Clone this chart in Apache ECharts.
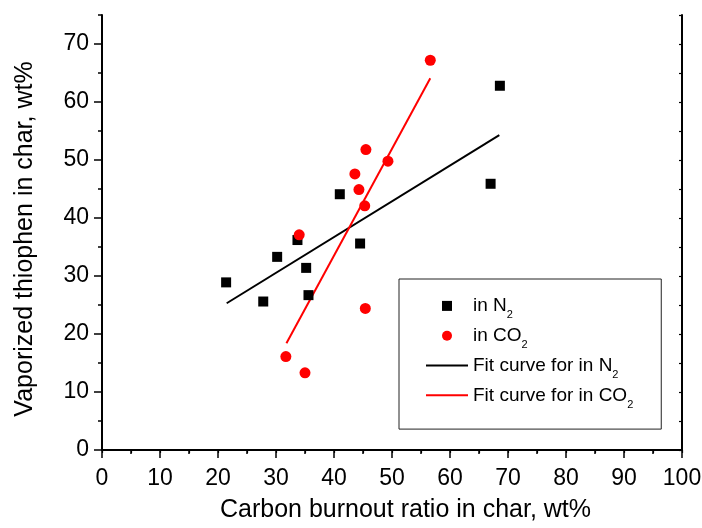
<!DOCTYPE html>
<html>
<head>
<meta charset="utf-8">
<script src="https://cdn.jsdelivr.net/npm/echarts@6/dist/echarts.min.js"></script>
<style>
  html, body { margin: 0; padding: 0; background: #fff; }
  #chart { width: 702px; height: 528px; }
</style>
</head>
<body>
<div id="chart"></div>
<script>
// points
const n2X = [21.4, 27.8, 30.2, 33.7, 35.2, 35.6, 41.0, 44.5, 67.0, 68.6];
const n2Y = [28.9, 25.6, 33.3, 36.2, 31.4, 26.7, 44.1, 35.6, 45.9, 62.8];
const co2X = [31.7, 34.0, 35.0, 43.6, 44.3, 45.3, 45.4, 45.5, 49.3, 56.6];
const co2Y = [16.1, 37.1, 13.3, 47.6, 44.9, 42.1, 24.4, 51.8, 49.8, 67.2];
// fit line end points
const fitN2X = [21.5, 68.5];
const fitN2Y = [25.3, 54.3];
const fitCO2X = [31.8, 56.6];
const fitCO2Y = [18.4, 64.1];

const yTicks = [0, 10, 20, 30, 40, 50, 60, 70];
const seriesNames = ['in N2', 'in CO2', 'Fit curve for in N2', 'Fit curve for in CO2'];

const font = "'Liberation Sans', Arial, sans-serif";

function pairs(xs, ys) {
  return xs.map((x, i) => [x, ys[i]]);
}

const chart = echarts.init(document.getElementById('chart'));

const frameLine = { lineStyle: { color: '#000', width: 2 } };
const lineIcon = 'path://M0,0L42,0L42,2L0,2Z';

chart.setOption({
  animation: false,
  grid: { left: 102, right: 20, top: 15, bottom: 78, outerBoundsMode: 'none' },
  legend: {
    orient: 'vertical',
    left: 399,
    top: 279,
    padding: [17.4, 28, 18.8, 27],
    itemGap: 5.3,
    itemWidth: 42,
    itemHeight: 10,
    borderColor: '#222',
    borderWidth: 1,
    data: [
      { name: seriesNames[0], icon: 'path://M0,0L10,0L10,10L0,10Z' },
      { name: seriesNames[1], icon: 'circle' },
      { name: seriesNames[2], icon: lineIcon },
      { name: seriesNames[3], icon: lineIcon }
    ],
    formatter: name => '{m|' + name.slice(0, -1) + '}{s|2}',
    textStyle: {
      color: '#000',
      fontFamily: font,
      rich: {
        m: { fontSize: 19, lineHeight: 30, fontFamily: font, color: '#000' },
        s: { fontSize: 11, lineHeight: 11, verticalAlign: 'bottom', fontFamily: font, color: '#000' }
      }
    }
  },
  xAxis: [
    {
      type: 'value',
      position: 'bottom',
      min: 0,
      max: 100,
      interval: 10,
      name: 'Carbon burnout ratio in char, wt%',
      nameLocation: 'middle',
      nameGap: 48,
      nameTextStyle: { fontSize: 25, fontFamily: font, color: '#000', padding: [0, 0, 0, 27] },
      axisLine: frameLine,
      axisTick: { inside: false, length: 8, lineStyle: { color: '#000', width: 1.5 } },
      minorTick: { show: true, splitNumber: 2, length: 4, lineStyle: { color: '#000', width: 1.5 } },
      axisLabel: { fontSize: 23, fontFamily: font, color: '#000', margin: 17 },
      splitLine: { show: false }
    },
    {
      type: 'value',
      position: 'top',
      min: 0,
      max: 100,
      interval: 5,
      axisLine: frameLine,
      axisTick: { inside: true, length: 3, lineStyle: { color: '#000', width: 1.2 } },
      axisLabel: { show: false },
      splitLine: { show: false }
    }
  ],
  yAxis: [
    {
      type: 'value',
      position: 'left',
      min: 0,
      max: 75,
      interval: 5,
      name: 'Vaporized thiophen in char, wt%',
      nameLocation: 'middle',
      nameGap: 64,
      nameTextStyle: { fontSize: 25, fontFamily: font, color: '#000', padding: [0, 13, 0, 0] },
      axisLine: frameLine,
      axisTick: { inside: false, length: 4, lineStyle: { color: '#000', width: 1.5 } },
      axisLabel: { show: false },
      splitLine: { show: false }
    },
    {
      type: 'value',
      position: 'left',
      min: 0,
      max: 75,
      interval: 5,
      axisLine: { show: false },
      axisTick: { inside: false, length: 8, customValues: yTicks, lineStyle: { color: '#000', width: 1.5 } },
      axisLabel: { fontSize: 23, fontFamily: font, color: '#000', margin: 13, customValues: yTicks },
      splitLine: { show: false }
    },
    {
      type: 'value',
      position: 'right',
      min: 0,
      max: 75,
      interval: 5,
      axisLine: frameLine,
      axisTick: { inside: true, length: 3, lineStyle: { color: '#000', width: 1.2 } },
      axisLabel: { show: false },
      splitLine: { show: false }
    }
  ],
  series: [
    {
      name: seriesNames[0],
      type: 'scatter',
      symbol: 'rect',
      symbolSize: 10,
      itemStyle: { color: '#000', opacity: 1 },
      data: pairs(n2X, n2Y),
      z: 3
    },
    {
      name: seriesNames[1],
      type: 'scatter',
      symbol: 'circle',
      symbolSize: 11,
      itemStyle: { color: '#ff0000', opacity: 1 },
      data: pairs(co2X, co2Y),
      z: 3
    },
    {
      name: seriesNames[2],
      type: 'line',
      showSymbol: false,
      symbol: 'none',
      itemStyle: { color: '#000' },
      lineStyle: { color: '#000', width: 2 },
      data: pairs(fitN2X, fitN2Y),
      z: 2
    },
    {
      name: seriesNames[3],
      type: 'line',
      showSymbol: false,
      symbol: 'none',
      itemStyle: { color: '#ff0000' },
      lineStyle: { color: '#ff0000', width: 2 },
      data: pairs(fitCO2X, fitCO2Y),
      z: 2
    }
  ]
});

window.addEventListener('resize', () => chart.resize());
</script>
</body>
</html>
